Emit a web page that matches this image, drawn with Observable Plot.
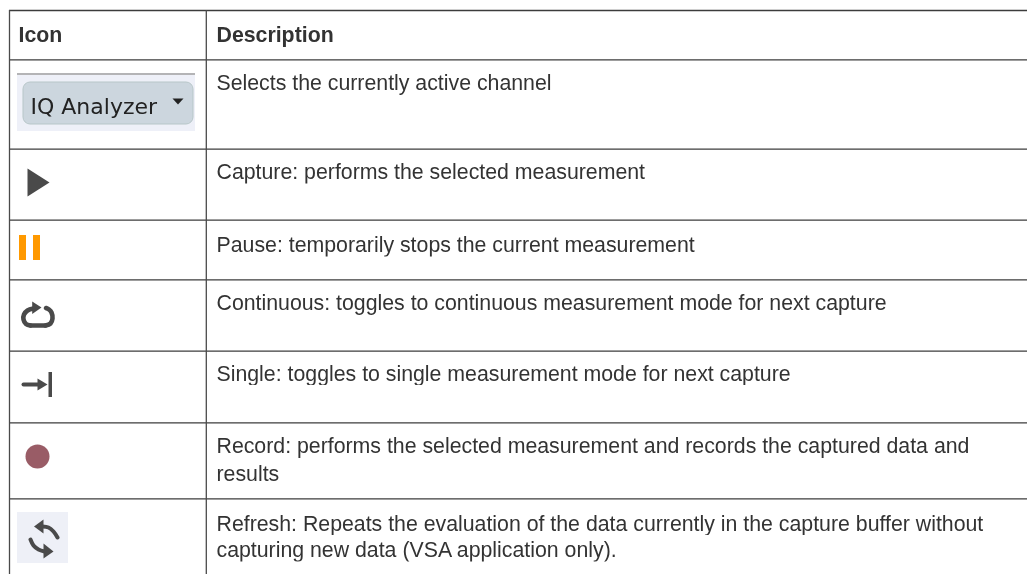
<!DOCTYPE html>
<html>
<head>
<meta charset="utf-8">
<script src="https://cdn.jsdelivr.net/npm/d3@7"></script>
<script src="https://cdn.jsdelivr.net/npm/@observablehq/plot@0.6"></script>
<style>
html,body{margin:0;padding:0;background:#fff;overflow:hidden}
svg{display:block}
</style>
</head>
<body>
<div id="chart"></div>
<script>
// Table structure
const rowLines = [10, 59.4, 148.6, 219.6, 279.4, 350.6, 422.3, 498.3];
const columnLines = [9, 205.8];
const tableBottom = 574;
const tableRight = 1027;

// Text
const headers = ["Icon", "Description"];
const headerX = [18, 216];
const headerY = [41, 41];
const descriptions = [
  "Selects the currently active channel",
  "Capture: performs the selected measurement",
  "Pause: temporarily stops the current measurement",
  "Continuous: toggles to continuous measurement mode for next capture",
  "Single: toggles to single measurement mode for next capture",
  "Record: performs the selected measurement and records the captured data and",
  "results",
  "Refresh: Repeats the evaluation of the data currently in the capture buffer without",
  "capturing new data (VSA application only)."
];
const descriptionY = [89.5, 178, 251, 309.5, 380, 452.5, 480, 530, 556];
const descriptionX = 216;

// Icon geometry, in picture units
const captureTriangle = [[27, 168], [49, 182], [27, 196]];
const pauseBarsX = [[19, 26], [33, 40]];
const pauseY = [235, 260];
const recordDot = [37, 456, 12];
const continuousLeft = [[33, 308], [27, 310], [23.5, 314], [23, 319], [25.5, 323.5], [30, 325]];
const continuousBottom = [[30, 325], [45, 325]];
const continuousRight = [[45, 325], [50, 323], [52, 318], [51, 312], [48.5, 309], [45.5, 307.5]];
const continuousHead = [[31.7, 301], [41, 307], [31.7, 313.5]];
const singleShaft = [[23, 384], [38, 384]];
const singleHead = [[37, 378], [47, 384], [37, 390]];
const singleBarX = [48.5, 52];
const singleBarY = [372, 397];
const refreshBack = [17, 68, 512, 563];
const refreshTopShaft = [[42, 526], [48, 527], [53, 531], [57, 537]];
const refreshTopHead = [[33.5, 526], [43, 519], [43, 533]];
const refreshLowShaft = [[30, 539], [33, 545], [38, 549], [44, 551]];
const refreshLowHead = [[43, 543], [53, 551], [43, 558]];
const buttonBack = [17, 195, 73, 131];
const buttonFace = [23, 193, 82, 124];
const buttonTopLine = [17, 195, 73.5];
const buttonLabel = "IQ Analyzer";
const buttonLabelAt = [30, 113];
const buttonCaret = [[172, 98], [183, 98], [177.5, 104]];

const rows = descriptions.map((t, i) => ({t, y: descriptionY[i]}));
const heads = headers.map((t, i) => ({t, x: headerX[i], y: headerY[i]}));
const ink = "#4a4a4a";
const line = (pts, o) => Plot.line(pts, {x: d => d[0], y: d => d[1], ...o});

const plot = Plot.plot({
  width: 1027, height: 574,
  margin: 0,
  style: {background: "#fff", fontFamily: "'Liberation Sans', Arial, sans-serif"},
  x: {domain: [0, 1027], range: [0, 1027], axis: null},
  y: {domain: [0, 574], range: [0, 574], axis: null},
  marks: [
    Plot.rect([buttonBack], {x1: d => d[0], x2: d => d[1], y1: d => d[2], y2: d => d[3], fill: "#eef0f8"}),
    Plot.ruleY([buttonTopLine[2]], {x1: buttonTopLine[0], x2: buttonTopLine[1], stroke: "#a0a0a0", strokeWidth: 1.4}),
    Plot.rect([buttonFace], {x1: d => d[0], x2: d => d[1], y1: d => d[2], y2: d => d[3], fill: "#ccd6de", stroke: "#b7c6c8", strokeWidth: 1, rx: 7, imageFilter: "blur(0.4px)"}),
    Plot.text([buttonLabel], {x: buttonLabelAt[0], y: buttonLabelAt[1], text: d => d, textAnchor: "start", lineAnchor: "bottom", fontFamily: "'DejaVu Sans'", fontSize: 22, fill: "#222", imageFilter: "blur(0.4px)"}),
    line(buttonCaret, {fill: "#222", stroke: "none"}),

    line(captureTriangle, {fill: ink, stroke: "none"}),
    Plot.rect(pauseBarsX, {x1: d => d[0], x2: d => d[1], y1: pauseY[0], y2: pauseY[1], fill: "#ff9900"}),

    line(continuousLeft, {stroke: ink, strokeWidth: 4.6, curve: "catmull-rom", imageFilter: "blur(0.3px)"}),
    line(continuousBottom, {stroke: ink, strokeWidth: 4.6, imageFilter: "blur(0.3px)"}),
    line(continuousRight, {stroke: ink, strokeWidth: 4.6, curve: "catmull-rom", imageFilter: "blur(0.3px)"}),
    line(continuousHead, {fill: ink, stroke: "none"}),

    line(singleShaft, {stroke: ink, strokeWidth: 4, imageFilter: "blur(0.3px)"}),
    line(singleHead, {fill: ink, stroke: "none"}),
    Plot.rect([0], {x1: singleBarX[0], x2: singleBarX[1], y1: singleBarY[0], y2: singleBarY[1], fill: ink}),

    Plot.dot([recordDot], {x: d => d[0], y: d => d[1], r: recordDot[2], fill: "#995c66", stroke: "none"}),

    Plot.rect([refreshBack], {x1: d => d[0], x2: d => d[1], y1: d => d[2], y2: d => d[3], fill: "#eef0f7"}),
    line(refreshTopShaft, {stroke: ink, strokeWidth: 4, curve: "catmull-rom", imageFilter: "blur(0.6px)"}),
    line(refreshTopHead, {fill: ink, stroke: "none", imageFilter: "blur(0.6px)"}),
    line(refreshLowShaft, {stroke: ink, strokeWidth: 4, curve: "catmull-rom", imageFilter: "blur(0.6px)"}),
    line(refreshLowHead, {fill: ink, stroke: "none", imageFilter: "blur(0.6px)"}),

    Plot.ruleY(rowLines, {x1: columnLines[0], x2: tableRight, stroke: "#3c3c3c", strokeWidth: 1.3}),
    Plot.ruleX(columnLines, {y1: rowLines[0], y2: tableBottom, stroke: "#4a4a4a", strokeWidth: 1.3}),

    Plot.text(heads, {x: "x", y: "y", text: "t", textAnchor: "start", lineAnchor: "bottom", fontWeight: "bold", fontSize: 21.3, fill: "#333", imageFilter: "blur(0.25px)"}),
    Plot.text(rows, {x: descriptionX, y: "y", text: "t", textAnchor: "start", lineAnchor: "bottom", fontSize: 21.3, fill: "#333", imageFilter: "blur(0.25px)"})
  ]
});
document.getElementById("chart").appendChild(plot);
</script>
</body>
</html>
